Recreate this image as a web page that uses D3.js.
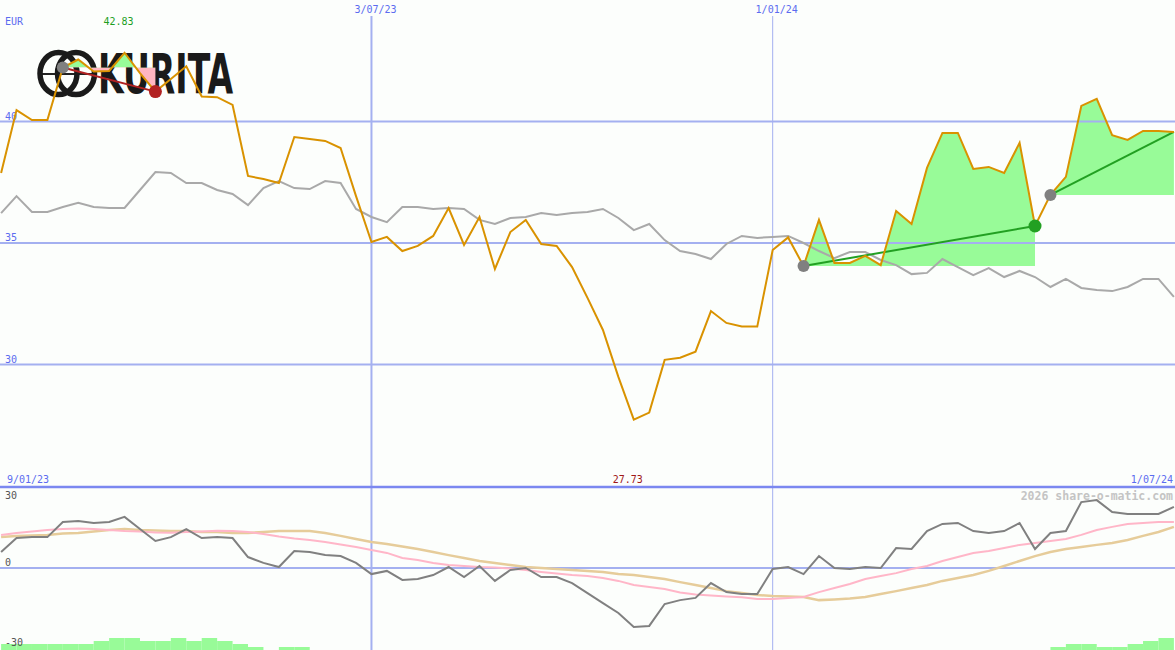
<!DOCTYPE html>
<html><head><meta charset="utf-8">
<script src="https://cdn.jsdelivr.net/npm/d3@7"></script>
<style>html,body{margin:0;padding:0;background:#fcfefc;}svg{display:block}</style>
</head><body><svg id="c" width="1175" height="650"></svg>
<script>
// ---------- data ----------
const startDate = new Date(2023, 0, 16);   // first weekly close
const currency = "EUR";
const rangeLabels = ["9/01/23", "1/07/24"];
const dateTicks = [new Date(2023, 6, 3), new Date(2024, 0, 1)];
const priceTicks = [30, 35, 40];
const oscTicks = [30, 0, -30];

const price = [37.88,40.47,40.06,40.06,42.22,42.55,42.06,42.08,42.83,41.99,
  41.23,41.75,42.27,41.03,41.00,40.68,37.76,37.63,37.47,39.36,
  39.28,39.20,38.91,36.93,35.04,35.25,34.67,34.88,35.29,36.44,
  34.92,36.07,33.93,35.45,35.95,34.96,34.88,34.01,32.74,31.42,
  29.49,27.73,28.02,30.19,30.28,30.53,32.20,31.71,31.56,31.56,
  34.71,35.23,34.05,35.95,34.18,34.18,34.47,34.09,36.32,35.78,
  38.09,39.53,39.53,38.05,38.13,37.88,39.12,35.70,36.98,37.72,
  40.64,40.93,39.44,39.24,39.61,39.61,39.57];

const compare = [36.23,36.93,36.28,36.28,36.48,36.65,36.48,36.44,36.44,37.18,
  37.92,37.88,37.47,37.47,37.18,37.02,36.56,37.26,37.55,37.26,
  37.22,37.55,37.47,36.40,36.07,35.86,36.48,36.48,36.40,36.44,
  36.40,35.95,35.78,36.03,36.07,36.23,36.15,36.23,36.28,36.40,
  36.03,35.53,35.78,35.12,34.67,34.55,34.34,34.96,35.29,35.21,
  35.25,35.29,35.00,34.67,34.38,34.63,34.63,34.30,34.09,33.72,
  33.77,34.34,34.01,33.68,33.97,33.60,33.85,33.60,33.19,33.52,
  33.15,33.07,33.02,33.19,33.52,33.52,32.78];

const osc = [6.6,12.3,12.7,12.7,18.9,19.3,18.5,18.9,21.0,16.0,
  11.1,12.7,16.0,12.3,12.7,12.3,4.5,2.1,0.4,7.0,
  6.6,5.3,4.9,2.1,-2.5,-1.2,-4.9,-4.5,-2.9,0.4,
  -3.7,0.8,-5.3,-0.8,0.0,-3.7,-3.7,-6.2,-10.3,-14.4,
  -18.5,-24.2,-23.8,-14.8,-13.2,-12.3,-6.2,-9.9,-10.7,-10.7,
  -0.4,0.4,-2.5,4.9,0.0,-0.4,0.4,0.0,8.2,7.8,
  15.2,18.1,18.5,15.2,14.4,15.2,18.5,7.8,14.4,15.2,
  27.1,27.9,23.0,22.2,22.2,22.2,25.1];

const oscAvgFast = [13.6,14.4,15.0,15.6,16.0,16.2,16.0,15.6,15.2,15.0,
  14.6,14.5,14.8,15.0,15.3,15.2,14.8,14.0,12.9,12.1,
  11.5,10.7,9.7,8.6,7.4,6.2,4.1,3.3,2.1,1.2,
  0.8,0.4,0.2,-0.2,-0.8,-1.6,-2.3,-2.9,-3.3,-4.1,
  -5.3,-7.0,-7.8,-8.6,-10.1,-10.9,-11.3,-11.7,-12.0,-12.7,
  -12.7,-12.3,-11.9,-9.9,-8.2,-6.6,-4.5,-3.3,-2.1,-0.4,
  0.8,2.9,4.5,6.2,7.0,8.2,9.5,10.3,11.1,11.9,
  13.6,15.6,16.9,18.1,18.5,18.9,18.9];

const oscAvgSlow = [12.7,13.2,13.4,13.6,14.2,14.4,15.0,15.6,16.0,15.6,
  15.4,15.2,15.2,14.8,14.8,14.4,14.4,14.8,15.2,15.2,
  15.2,14.4,13.2,11.9,10.7,9.9,8.8,7.8,6.6,5.3,
  4.1,2.9,2.1,1.2,0.4,0.0,-0.4,-0.8,-1.2,-1.6,
  -2.5,-2.9,-3.7,-4.5,-5.8,-7.0,-8.2,-9.5,-10.3,-11.1,
  -11.5,-11.7,-11.9,-13.2,-12.9,-12.5,-11.9,-10.7,-9.5,-8.2,
  -7.0,-5.3,-4.1,-2.9,-1.2,0.8,2.9,4.9,6.6,7.8,
  8.6,9.5,10.3,11.5,13.2,14.8,16.9];

// weekly histogram (one per interval between closes)
const barLevels = [2,2,2,2,2,2,3,4,4,3, 3,4,3,4,3,2,1,0,1,1,
  0,0,0,0,0,0,0,0,0,0, 0,0,0,0,0,0,0,0,0,0,
  0,0,0,0,0,0,0,0,0,0, 0,0,0,0,0,0,0,0,0,0,
  0,0,0,0,0,0,0,0,1,2, 2,1,1,2,3,4];

// trend segments: start index, end index, direction
const trendFrom = [4, 52, 68];
const trendTo   = [10, 67, 76];
const trendDir  = ["down", "up", "up"];

// ---------- chart ----------
const W = 1175, H = 650;
const svg = d3.select("#c");
const defs = svg.append("defs");
const dates = price.map((_, i) => d3.timeDay.offset(startDate, 7 * i));

const x = d3.scaleTime().domain([new Date(2023,0,15,12), new Date(2024,6,1,12)]).range([0, W]);
const yMain = d3.scaleLinear().domain([25, 45]).range([486, 0]);
const yOsc = d3.scaleLinear().domain([-30, 30]).range([641, 495]);
const yBar = d3.scaleLinear().domain([0, 4]).range([650, 638]);

const mono = "'DejaVu Sans Mono', 'Liberation Mono', monospace";
const blue = "#5b6cf0", grid = "#a4b0f0";

svg.append("rect").attr("width", W).attr("height", H).attr("fill", "#fcfefc");

// logo
const logo = svg.append("g");
logo.append("line").attr("x1", 38).attr("x2", 97).attr("y1", 74).attr("y2", 74)
  .attr("stroke", "#222").attr("stroke-width", 2);
[58.5, 76].forEach(cx => logo.append("ellipse").attr("cx", cx).attr("cy", 73.5)
  .attr("rx", 18.5).attr("ry", 21).attr("fill", "none").attr("stroke", "#1a1a1a").attr("stroke-width", 5.5));
logo.append("text").attr("x", 98).attr("y", 93).text("KURITA")
  .attr("font-family", "'DejaVu Sans Condensed','DejaVu Sans',sans-serif")
  .attr("font-weight", "bold").attr("font-size", 55)
  .attr("textLength", 135).attr("lengthAdjust", "spacingAndGlyphs").attr("fill", "#1a1a1a");

// bars
svg.append("g").selectAll("rect").data(barLevels).join("rect")
  .attr("x", (d, i) => x(dates[i]))
  .attr("width", (d, i) => x(dates[i + 1]) - x(dates[i]))
  .attr("y", d => yBar(d)).attr("height", d => yBar(0) - yBar(d))
  .attr("fill", "#98fb98");

// trend fills
const fills = svg.append("g");
trendFrom.forEach((from, k) => {
  const to = trendTo[k];
  const idx = d3.range(from, to + 1);
  const by = yMain(price[from]);
  const area = d3.area().x(i => x(dates[i])).y0(by).y1(i => yMain(price[i]));
  defs.append("clipPath").attr("id", "up" + k).append("rect")
    .attr("x", 0).attr("y", 0).attr("width", W).attr("height", by);
  defs.append("clipPath").attr("id", "dn" + k).append("rect")
    .attr("x", 0).attr("y", by).attr("width", W).attr("height", H - by);
  fills.append("path").datum(idx).attr("d", area).attr("fill", "#98fb98").attr("clip-path", `url(#up${k})`);
  fills.append("path").datum(idx).attr("d", area).attr("fill", "#ffb6c1").attr("clip-path", `url(#dn${k})`);
});

// grid
const g = svg.append("g");
g.selectAll(".h").data(priceTicks).join("line")
  .attr("x1", 0).attr("x2", W).attr("y1", d => yMain(d)).attr("y2", d => yMain(d))
  .attr("stroke", grid).attr("stroke-width", 2);
g.selectAll(".v").data(dateTicks).join("line")
  .attr("x1", d => x(d)).attr("x2", d => x(d)).attr("y1", 16).attr("y2", H)
  .attr("stroke", grid).attr("stroke-width", d => d.getMonth() === 0 ? 1 : 2);
g.append("line").attr("x1", 0).attr("x2", W).attr("y1", yOsc(0)).attr("y2", yOsc(0))
  .attr("stroke", grid).attr("stroke-width", 2);
g.append("line").attr("x1", 0).attr("x2", W).attr("y1", 487).attr("y2", 487)
  .attr("stroke", "#7b88f0").attr("stroke-width", 2.5);

// text labels
const fmtDate = d3.timeFormat("%-d/%m/%y");
g.selectAll(".dl").data(dateTicks).join("text")
  .attr("x", d => x(d) + 4).attr("y", 13).attr("text-anchor", "middle")
  .attr("font-family", mono).attr("font-size", 10).attr("fill", blue).text(d => fmtDate(d));
g.selectAll(".pl").data(priceTicks).join("text")
  .attr("x", 5).attr("y", d => yMain(d) - 2).attr("font-family", mono).attr("font-size", 10)
  .attr("fill", blue).text(d => d);
g.selectAll(".ol").data(oscTicks).join("text")
  .attr("x", 5).attr("y", d => yOsc(d) - 2 + (d === 30 ? 6 : 0) + (d === -30 ? 7 : 0))
  .attr("font-family", mono).attr("font-size", 10).attr("fill", "#555").text(d => d);
svg.append("text").attr("x", 5).attr("y", 25).attr("font-family", mono).attr("font-size", 10)
  .attr("fill", blue).text(currency);
const iMax = d3.maxIndex(price), iMin = d3.minIndex(price);
svg.append("text").attr("x", x(dates[iMax]) - 6).attr("y", 25).attr("text-anchor", "middle")
  .attr("font-family", mono).attr("font-size", 10).attr("fill", "#1e9e1e").text(price[iMax].toFixed(2));
svg.append("text").attr("x", x(dates[iMin]) - 6).attr("y", 483).attr("text-anchor", "middle")
  .attr("font-family", mono).attr("font-size", 10).attr("fill", "#a01818").text(price[iMin].toFixed(2));
svg.append("text").attr("x", 7).attr("y", 483).attr("font-family", mono).attr("font-size", 10)
  .attr("fill", blue).text(rangeLabels[0]);
svg.append("text").attr("x", 1173).attr("y", 483).attr("text-anchor", "end").attr("font-family", mono)
  .attr("font-size", 10).attr("fill", blue).text(rangeLabels[1]);
svg.append("text").attr("x", 1173).attr("y", 500).attr("text-anchor", "end").attr("font-family", mono)
  .attr("font-weight", "bold").attr("font-size", 11.5).attr("fill", "#c4c4c4").text("2026 share-o-matic.com");

// oscillator lines
const lineOsc = arr => d3.line().x((d, i) => x(dates[i])).y(d => yOsc(d))(arr);
svg.append("path").attr("d", lineOsc(oscAvgSlow)).attr("fill", "none").attr("stroke", "#e6cc9a").attr("stroke-width", 2.5);
svg.append("path").attr("d", lineOsc(oscAvgFast)).attr("fill", "none").attr("stroke", "#ffb6c8").attr("stroke-width", 2);
svg.append("path").attr("d", lineOsc(osc)).attr("fill", "none").attr("stroke", "#808080").attr("stroke-width", 2);

// price lines
const lineMain = arr => d3.line().x((d, i) => x(dates[i])).y(d => yMain(d))(arr);
svg.append("path").attr("d", lineMain(compare)).attr("fill", "none").attr("stroke", "#a9a9a9").attr("stroke-width", 2);

// trend lines
trendFrom.forEach((from, k) => {
  const to = trendTo[k];
  svg.append("line").attr("x1", x(dates[from])).attr("y1", yMain(price[from]))
    .attr("x2", x(dates[to])).attr("y2", yMain(price[to]))
    .attr("stroke", trendDir[k] === "down" ? "#b22222" : "#22a022").attr("stroke-width", 2);
});

svg.append("path").attr("d", lineMain(price)).attr("fill", "none").attr("stroke", "#d99200").attr("stroke-width", 2);

// markers
trendFrom.forEach((from, k) => {
  const to = trendTo[k];
  svg.append("circle").attr("cx", x(dates[from])).attr("cy", yMain(price[from])).attr("r", 6).attr("fill", "#808080");
  if (to < price.length - 1)
    svg.append("circle").attr("cx", x(dates[to])).attr("cy", yMain(price[to])).attr("r", 6.5)
      .attr("fill", trendDir[k] === "down" ? "#b22222" : "#22a022");
});
</script></body></html>
